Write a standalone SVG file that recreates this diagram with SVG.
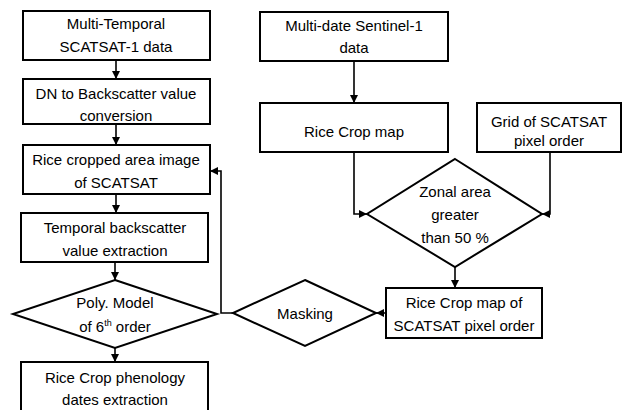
<svg xmlns="http://www.w3.org/2000/svg" width="622" height="410" viewBox="0 0 622 410">
<style>
.b{fill:#fff;stroke:#000;stroke-width:2}
.t{font-family:"Liberation Sans",Arial,sans-serif;font-size:15px;fill:#000;text-anchor:middle}
.c{fill:none;stroke:#000;stroke-width:1.6}
</style>
<defs>
<marker id="a" viewBox="0 0 10 10" refX="10" refY="5" markerWidth="5" markerHeight="5" orient="auto" markerUnits="strokeWidth"><path d="M0,0L10,5L0,10z" fill="#000"/></marker>
</defs>
<rect width="622" height="410" fill="#fff"/>
<g id="connectors">
<line class="c" x1="116" y1="60" x2="116" y2="79" marker-end="url(#a)"/>
<line class="c" x1="116" y1="124" x2="116" y2="145" marker-end="url(#a)"/>
<line class="c" x1="116" y1="194" x2="116" y2="213" marker-end="url(#a)"/>
<line class="c" x1="115" y1="262" x2="115" y2="280" marker-end="url(#a)"/>
<line class="c" x1="115" y1="348" x2="115" y2="362" marker-end="url(#a)"/>
<line class="c" x1="354" y1="61" x2="354" y2="103" marker-end="url(#a)"/>
<polyline class="c" points="354,152 354,214 367,214" marker-end="url(#a)"/>
<polyline class="c" points="550,152 550,214 542,214" marker-end="url(#a)"/>
<line class="c" x1="455" y1="267" x2="455" y2="288" marker-end="url(#a)"/>
<line class="c" x1="386" y1="313" x2="376" y2="313" marker-end="url(#a)"/>
<polyline class="c" points="233,313 221,313 221,171 210,171" marker-end="url(#a)"/>
</g>
<g id="n1"><rect class="b" x="23" y="11" width="187" height="49"/><text class="t" x="116" y="29">Multi-Temporal</text><text class="t" x="116" y="52">SCATSAT-1 data</text></g>
<g id="n2"><rect class="b" x="23" y="79" width="187" height="45"/><text class="t" x="116" y="99">DN to Backscatter value</text><text class="t" x="116" y="121">conversion</text></g>
<g id="n3"><rect class="b" x="23" y="145" width="187" height="49"/><text class="t" x="116" y="165">Rice cropped area image</text><text class="t" x="116" y="188">of SCATSAT</text></g>
<g id="n4"><rect class="b" x="21" y="213" width="187" height="49"/><text class="t" x="115" y="233">Temporal backscatter</text><text class="t" x="115" y="256">value extraction</text></g>
<g id="n5"><polygon class="b" points="115,280 217,314 115,348 13,314"/><text class="t" x="115" y="308">Poly. Model</text><text class="t" x="115" y="332">of 6<tspan font-size="9" dy="-6">th</tspan><tspan dy="6"> order</tspan></text></g>
<g id="n6"><rect class="b" x="21" y="362" width="187" height="60"/><text class="t" x="115" y="383">Rice Crop phenology</text><text class="t" x="115" y="405">dates extraction</text></g>
<g id="n7"><rect class="b" x="260" y="12" width="188" height="49"/><text class="t" x="354" y="31">Multi-date Sentinel-1</text><text class="t" x="354" y="53">data</text></g>
<g id="n8"><rect class="b" x="260" y="103" width="188" height="49"/><text class="t" x="354" y="137">Rice Crop map</text></g>
<g id="n9"><rect class="b" x="477" y="103" width="144" height="49"/><text class="t" x="549" y="127">Grid of SCATSAT</text><text class="t" x="549" y="146">pixel order</text></g>
<g id="n10"><polygon class="b" points="455,159 542,214 455,267 367,214"/><text class="t" x="455" y="197">Zonal area</text><text class="t" x="455" y="220">greater</text><text class="t" x="455" y="243">than 50 %</text></g>
<g id="n11"><rect class="b" x="386" y="288" width="156" height="50"/><text class="t" x="464" y="308">Rice Crop map of</text><text class="t" x="464" y="331">SCATSAT pixel order</text></g>
<g id="n12"><polygon class="b" points="305,280 376,313 305,346 233,313"/><text class="t" x="305" y="319">Masking</text></g>
</svg>
